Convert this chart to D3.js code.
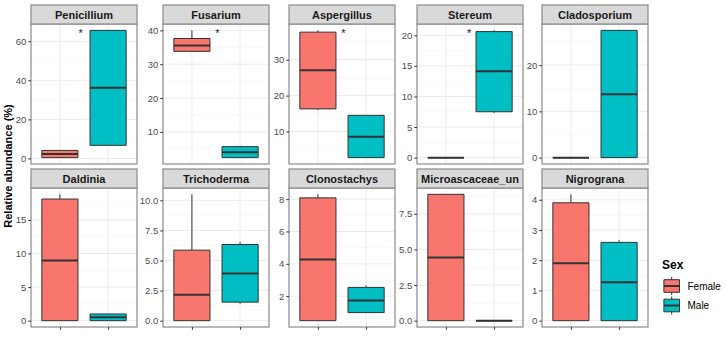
<!DOCTYPE html>
<html><head><meta charset="utf-8">
<script src="https://cdn.jsdelivr.net/npm/d3@7"></script>
<style>
html,body{margin:0;padding:0;background:#fff;}
svg{display:block;font-family:"Liberation Sans",Arial,sans-serif;}
</style></head>
<body><svg id="chart" width="727" height="337"></svg>
<script>
// ---- data ----
const genera = ["Penicillium","Fusarium","Aspergillus","Stereum","Cladosporium",
                "Daldinia","Trichoderma","Clonostachys","Microascaceae_un","Nigrograna"];
const sexes = ["Female","Male"];
const sexColors = ["#F8766D","#00BFC4"];
// [min, q1, median, q3, max]
const femaleStats = [
  [0.4,0.4,2.3,4.1,4.1],
  [33.8,33.8,35.5,37.6,40.0],
  [16.0,16.3,27.1,37.7,38.2],
  [0,0,0,0,0],
  [0,0,0,0,0],
  [0,0,8.95,18.1,18.8],
  [0,0,2.15,5.86,10.5],
  [0.48,0.48,4.26,8.08,8.3],
  [0,0,4.43,8.87,8.87],
  [0,0,1.9,3.9,4.18]
];
const maleStats = [
  [6.7,6.7,36.2,65.6,65.6],
  [2.4,2.4,4.0,5.65,5.9],
  [2.7,2.7,8.5,14.5,14.5],
  [7.3,7.5,14.1,20.6,20.8],
  [0,0,13.7,27.5,27.5],
  [0,0,0.5,1.0,1.0],
  [1.4,1.54,3.93,6.33,6.55],
  [0.98,0.98,1.73,2.54,2.66],
  [0,0,0,0,0],
  [0,0,1.27,2.59,2.66]
];
const yTicks = [
  [0,20,40,60],
  [10,20,30,40],
  [10,20,30],
  [0,5,10,15,20],
  [0,10,20],
  [0,5,10,15],
  [0,2.5,5,7.5,10],
  [2,4,6,8],
  [0,2.5,5,7.5],
  [0,1,2,3,4]
];
const sigGenera = ["Penicillium","Fusarium","Aspergillus","Stereum"];
const sigPos = [1.43,1.53,1.53,1.48];
const yTitle = "Relative abundance (%)";
const legendTitle = "Sex";

// ---- layout ----
const colLefts = [31,163,289,417,542];
const panelW = 106;
const stripTops = [5,169];
const stripH = 19;
const panelBottoms = [164,327];
const borderCol = "#8a8a8a";

const svg = d3.select("#chart");

genera.forEach((g,i)=>{
  const row = Math.floor(i/5), col = i%5;
  const x0 = colLefts[col], x1 = x0 + panelW;
  const sTop = stripTops[row], pTop = sTop + stripH, pBot = panelBottoms[row];
  const stats = [femaleStats[i], maleStats[i]];
  const lo = d3.min(stats, s=>s[0]), hi = d3.max(stats, s=>s[4]);
  const r = hi - lo;
  const y = d3.scaleLinear().domain([lo - 0.05*r, hi + 0.05*r]).range([pBot, pTop]);
  const x = d3.scalePoint().domain(sexes).range([x0, x1]).padding(0.6);
  const step = x.step();
  const bw = step*0.75;
  const dom = y.domain();
  const gP = svg.append("g");

  // background
  gP.append("rect").attr("x",x0).attr("y",pTop).attr("width",panelW).attr("height",pBot-pTop).attr("fill","#fff");

  // grid
  const t = yTicks[i];
  const tStep = t[1]-t[0];
  const minor = [];
  for (let k=-1;k<t.length;k++){ minor.push(t[0]+tStep*k + tStep/2); }
  gP.selectAll(".minor").data(minor.filter(v=>v>=dom[0]&&v<=dom[1])).enter().append("line")
    .attr("x1",x0).attr("x2",x1).attr("y1",d=>y(d)).attr("y2",d=>y(d))
    .attr("stroke","#f3f3f3").attr("stroke-width",0.6);
  gP.selectAll(".major").data(t).enter().append("line")
    .attr("x1",x0).attr("x2",x1).attr("y1",d=>y(d)).attr("y2",d=>y(d))
    .attr("stroke","#ebebeb").attr("stroke-width",1);
  gP.selectAll(".vmajor").data(sexes).enter().append("line")
    .attr("x1",d=>x(d)).attr("x2",d=>x(d)).attr("y1",pTop).attr("y2",pBot)
    .attr("stroke","#ebebeb").attr("stroke-width",1);

  // boxes
  sexes.forEach((s,j)=>{
    const st = stats[j];
    const cx = x(s);
    const gB = gP.append("g");
    gB.append("line").attr("x1",cx).attr("x2",cx).attr("y1",y(st[4])).attr("y2",y(st[3]))
      .attr("stroke","#333").attr("stroke-width",1);
    gB.append("line").attr("x1",cx).attr("x2",cx).attr("y1",y(st[1])).attr("y2",y(st[0]))
      .attr("stroke","#333").attr("stroke-width",1);
    const bx0 = cx-bw/2, bx1 = cx+bw/2, by0 = y(st[3]), by1 = y(st[1]);
    gB.append("path").attr("d",`M${bx0},${by0}H${bx1}V${by1}H${bx0}Z`)
      .attr("fill",sexColors[j]).attr("stroke","#333").attr("stroke-width",1);
    gB.append("line").attr("x1",bx0).attr("x2",bx1).attr("y1",y(st[2])).attr("y2",y(st[2]))
      .attr("stroke","#333").attr("stroke-width",2);
  });

  // significance
  const si = sigGenera.indexOf(g);
  if (si>=0){
    const px = x(sexes[0]) + (sigPos[si]-1)*step;
    gP.append("text").attr("x",px).attr("y",y(hi)+6.3).attr("text-anchor","middle")
      .attr("font-size",11).attr("fill","#1a1a1a").text("*");
  }

  // border
  gP.append("rect").attr("x",x0).attr("y",pTop).attr("width",panelW).attr("height",pBot-pTop)
    .attr("fill","none").attr("stroke",borderCol).attr("stroke-width",1.2);

  // strip
  gP.append("rect").attr("x",x0).attr("y",sTop).attr("width",panelW).attr("height",stripH)
    .attr("fill","#d9d9d9").attr("stroke",borderCol).attr("stroke-width",1.2);
  gP.append("text").attr("x",x0+panelW/2).attr("y",sTop+stripH/2+4).attr("text-anchor","middle")
    .attr("font-size",11).attr("font-weight","bold").attr("fill","#1a1a1a").text(g);

  // y axis
  const dec = d3.max(t, v=>{const s=String(v); return s.includes(".")? s.split(".")[1].length:0;});
  const ax = d3.axisLeft(y).tickValues(t).tickSize(2.75).tickPadding(2).tickFormat(d3.format("."+dec+"f"));
  const gA = svg.append("g").attr("transform",`translate(${x0},0)`).call(ax);
  gA.select(".domain").remove();
  gA.selectAll(".tick line").attr("stroke","#333");
  gA.selectAll(".tick text").attr("fill","#4d4d4d").attr("font-size",9.5)
    .attr("font-family","'Liberation Sans',Arial,sans-serif");

  // x axis ticks on bottom row
  if (row===1){
    const axX = d3.axisBottom(x).tickSize(2.75).tickFormat("");
    const gX = svg.append("g").attr("transform",`translate(0,${pBot})`).call(axX);
    gX.select(".domain").remove();
    gX.selectAll(".tick line").attr("stroke","#333");
  }
});

// y title
svg.append("text").attr("transform","translate(12,166) rotate(-90)").attr("text-anchor","middle")
  .attr("font-size",11).attr("font-weight","bold").attr("fill","#000").text(yTitle);

// legend
const lg = svg.append("g");
lg.append("text").attr("x",662).attr("y",268.5).attr("font-size",12).attr("font-weight","bold").attr("fill","#000").text(legendTitle);
const keyCenters = [286,305.5];
sexes.forEach((s,j)=>{
  const cy = keyCenters[j], cx = 671.7;
  lg.append("line").attr("x1",cx).attr("x2",cx).attr("y1",cy-9).attr("y2",cy+9).attr("stroke","#333").attr("stroke-width",1);
  lg.append("path").attr("d",`M${cx-7.8},${cy-6.3}H${cx+7.8}V${cy+6.3}H${cx-7.8}Z`)
    .attr("fill",sexColors[j]).attr("stroke","#333").attr("stroke-width",1);
  lg.append("line").attr("x1",cx-7.8).attr("x2",cx+7.8).attr("y1",cy).attr("y2",cy).attr("stroke","#333").attr("stroke-width",2);
  lg.append("text").attr("x",687.5).attr("y",cy+3.5).attr("font-size",10).attr("fill","#000").text(s);
});
</script></body></html>
